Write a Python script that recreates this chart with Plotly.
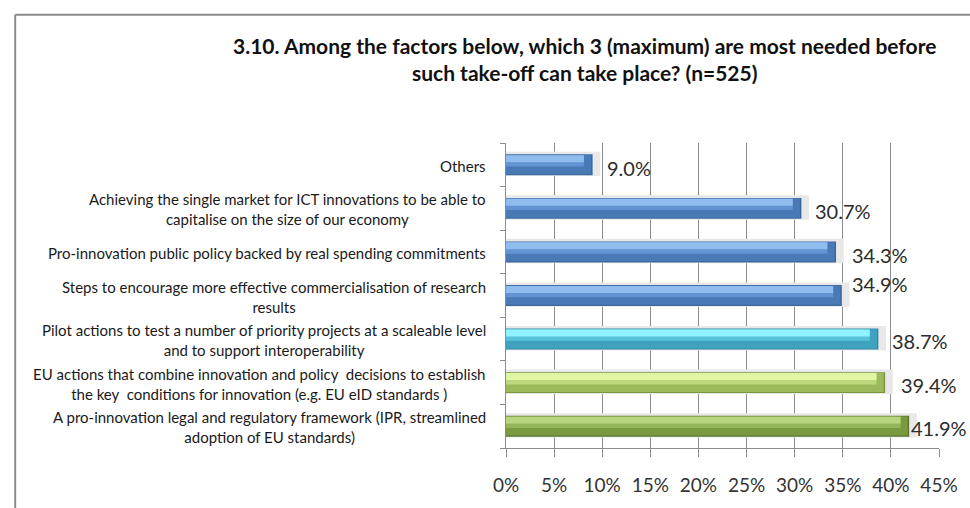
import plotly.graph_objects as go

# Survey question 3.10 - share of respondents choosing each factor (n=525)
categories = [
    "A pro-innovation legal and regulatory framework (IPR, streamlined<br>adoption of EU standards)",
    "EU actions that combine innovation and policy  decisions to establish<br>the key  conditions for innovation (e.g. EU eID standards )",
    "Pilot actions to test a number of priority projects at a scaleable level<br>and to support interoperability",
    "Steps to encourage more effective commercialisation of research<br>results",
    "Pro-innovation public policy backed by real spending commitments",
    "Achieving the single market for ICT innovations to be able to<br>capitalise on the size of our economy",
    "Others",
]
shares = [41.9, 39.4, 38.7, 34.9, 34.3, 30.7, 9.0]
x_ticks = [0, 5, 10, 15, 20, 25, 30, 35, 40, 45]
title_text = ("3.10. Among the factors below, which 3 (maximum) are most needed before"
              "<br>such take-off can take place? (n=525)")

# bevelled bar palette: edge, dark body, medium band, light band
edge_col = ["#5b7630", "#7a9540", "#2f8aa6", "#3b679c", "#3b679c", "#3b679c", "#3b679c"]
dark_col = ["#7a9a40", "#9cb95c", "#3fa3c0", "#4a7ab6", "#4a7ab6", "#4a7ab6", "#4a7ab6"]
mid_col = ["#95b658", "#bcd77c", "#58c2dc", "#6293d2", "#6293d2", "#6293d2", "#6293d2"]
light_col = ["#b9d67f", "#e0f6a2", "#8ef2ff", "#8fbdf0", "#8fbdf0", "#8fbdf0", "#8fbdf0"]

# label nudges (pixels)
label_dx = [0, 14, 12, 8, 14, 12, 12]
label_dy = [-2, -2, -1.5, 12, -3.5, -3, -3]

W, H = 970, 508
ML, MR, MT, MB = 506, 22, 143, 56
GRID = "#8c8c8c"
FONT = "Lato"


def px_x(p):
    return (p - ML) / (W - ML - MR)


def px_y(p):
    return (H - MB - p) / (H - MT - MB)


fig = go.Figure()

# soft drop shadow behind each bar
fig.add_trace(go.Bar(
    y=categories, x=[v + 0.8 for v in shares], orientation="h",
    offset=-0.26, width=0.56, marker=dict(color="#e8e8e8", line=dict(width=0)),
    hoverinfo="skip", showlegend=False,
))
# outer rim
fig.add_trace(go.Bar(
    y=categories, x=shares, orientation="h",
    offset=-0.24, width=0.48, marker=dict(color=edge_col, line=dict(width=0)),
    showlegend=False, hovertemplate="%{x:.1f}%<extra></extra>",
))
# dark body
fig.add_trace(go.Bar(
    y=categories, x=[v - 0.15 for v in shares], orientation="h",
    offset=-0.215, width=0.44, marker=dict(color=dark_col, line=dict(width=0)),
    hoverinfo="skip", showlegend=False,
))
# medium band
fig.add_trace(go.Bar(
    y=categories, x=[v - 0.9 for v in shares], orientation="h",
    offset=-0.04, width=0.26, marker=dict(color=mid_col, line=dict(width=0)),
    hoverinfo="skip", showlegend=False,
))
# light highlight band
fig.add_trace(go.Bar(
    y=categories, x=[v - 0.9 for v in shares], orientation="h",
    offset=0.06, width=0.16, marker=dict(color=light_col, line=dict(width=0)),
    hoverinfo="skip", showlegend=False,
))

annotations = []
# value labels
for cat, v, dx, dy in zip(categories, shares, label_dx, label_dy):
    annotations.append(dict(
        x=v, y=cat, xref="x", yref="y", text=f"{v:.1f}%", showarrow=False,
        xanchor="left", yanchor="middle", xshift=dx, yshift=dy,
        font=dict(family=FONT, size=20, color="#2b2b2b"),
    ))
# category labels, centred lines
for cat in categories:
    annotations.append(dict(
        x=0, y=cat, xref="paper", yref="y", text=cat, showarrow=False,
        xanchor="right", yanchor="middle", align="center", xshift=-18, yshift=-1,
        font=dict(family=FONT, size=15, color="#1a1a1a"),
    ))
# chart title
annotations.append(dict(
    x=px_x(586), y=px_y(57.5), xref="paper", yref="paper", text=title_text,
    showarrow=False, xanchor="center", yanchor="middle", align="center",
    font=dict(family=FONT, size=21, color="#111111", weight="bold"),
))

shapes = [
    dict(type="line", xref="paper", yref="paper", x0=px_x(5), x1=px_x(980),
         y0=px_y(13), y1=px_y(13), line=dict(color="#8a8a8a", width=2)),
    dict(type="line", xref="paper", yref="paper", x0=px_x(5), x1=px_x(5),
         y0=px_y(13), y1=px_y(520), line=dict(color="#8a8a8a", width=2)),
]

fig.update_layout(
    width=W, height=H,
    margin=dict(l=ML, r=MR, t=MT, b=MB, pad=0),
    paper_bgcolor="white", plot_bgcolor="white",
    barmode="overlay", showlegend=False,
    annotations=annotations, shapes=shapes,
    font=dict(family=FONT),
)
fig.update_xaxes(
    range=[0, 45], tickvals=x_ticks, ticktext=[f"{t}%" for t in x_ticks],
    showgrid=True, gridcolor=GRID, gridwidth=1, zeroline=False,
    showline=True, linecolor=GRID, linewidth=1,
    ticks="outside", ticklen=8, tickcolor=GRID, tickwidth=1,
    ticklabelstandoff=12,
    tickfont=dict(family=FONT, size=19, color="#333333"),
)
fig.update_yaxes(
    type="category", categoryorder="array", categoryarray=categories,
    range=[-0.5, 6.5], showticklabels=False, showgrid=False, zeroline=False,
    showline=True, linecolor=GRID, linewidth=1,
    ticks="outside", tickson="boundaries", ticklen=5, tickcolor=GRID,
)

fig.write_html("out.html")
